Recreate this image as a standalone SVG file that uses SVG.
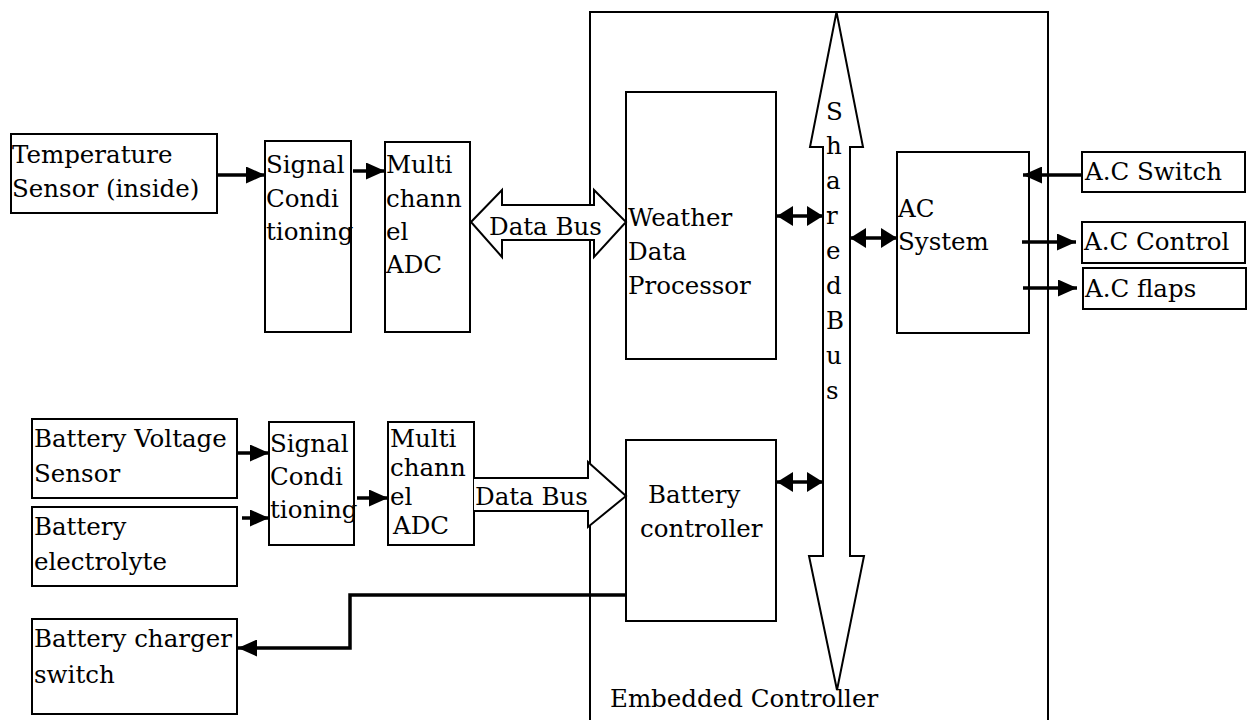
<svg xmlns="http://www.w3.org/2000/svg" width="1247" height="720" viewBox="0 0 1247 720">
<style>
text{font-family:"DejaVu Serif","Liberation Serif",serif;font-size:24.5px;fill:#000}
.box{fill:#fff;stroke:#000;stroke-width:2}
.frame{fill:none;stroke:#000;stroke-width:2}
.bus{fill:#fff;stroke:#000;stroke-width:2;stroke-linejoin:miter}
.c{fill:none;stroke:#000;stroke-width:3.5}
.a{marker-end:url(#ah)}
.d{marker-start:url(#dh);marker-end:url(#dh)}
</style>
<defs>
<marker id="ah" markerUnits="userSpaceOnUse" markerWidth="20" markerHeight="17" refX="19" refY="8.5" orient="auto"><path d="M0,0 L19,8.5 L0,17 z" fill="#000"/></marker>
<marker id="dh" markerUnits="userSpaceOnUse" markerWidth="17" markerHeight="20" refX="16" refY="10" orient="auto-start-reverse"><path d="M0,0 L16,10 L0,20 z" fill="#000"/></marker>
</defs>
<rect width="1247" height="720" fill="#fff"/>
<g id="embedded-controller">
<path class="frame" d="M590,722 V12 H1048 V722"/>
<text x="610" y="707">Embedded Controller</text>
</g>
<g id="temp-sensor"><rect class="box" x="11" y="134" width="206" height="79"/><text x="12" y="163">Temperature</text><text x="12" y="197">Sensor (inside)</text></g>
<g id="signal-cond-1"><rect class="box" x="265" y="141" width="86" height="191"/><text x="266" y="173">Signal</text><text x="266" y="207">Condi</text><text x="266" y="240">tioning</text></g>
<g id="adc-1"><rect class="box" x="385" y="142" width="85" height="190"/><text x="386" y="173">Multi</text><text x="386" y="207">chann</text><text x="386" y="240">el</text><text x="386" y="273">ADC</text></g>
<g id="weather-data-processor"><rect class="box" x="626" y="92" width="150" height="267"/><text x="628" y="226">Weather</text><text x="628" y="260">Data</text><text x="628" y="294">Processor</text></g>
<g id="ac-system"><rect class="box" x="897" y="152" width="132" height="181"/><text x="898" y="217">AC</text><text x="898" y="250">System</text></g>
<g id="ac-switch"><rect class="box" x="1082" y="152" width="163" height="40"/><text x="1085" y="180">A.C Switch</text></g>
<g id="ac-control"><rect class="box" x="1082" y="222" width="163" height="41"/><text x="1084" y="250">A.C Control</text></g>
<g id="ac-flaps"><rect class="box" x="1083" y="268" width="163" height="41"/><text x="1085" y="297">A.C flaps</text></g>
<g id="battery-voltage-sensor"><rect class="box" x="32" y="419" width="205" height="79"/><text x="34" y="447">Battery Voltage</text><text x="34" y="482">Sensor</text></g>
<g id="battery-electrolyte"><rect class="box" x="32" y="507" width="205" height="79"/><text x="34" y="535">Battery</text><text x="34" y="570">electrolyte</text></g>
<g id="signal-cond-2"><rect class="box" x="269" y="422" width="85" height="123"/><text x="270" y="452">Signal</text><text x="270" y="485">Condi</text><text x="270" y="518">tioning</text></g>
<g id="adc-2"><rect class="box" x="388" y="422" width="86" height="123"/><text x="390" y="447">Multi</text><text x="390" y="476">chann</text><text x="390" y="505">el</text><text x="393" y="534">ADC</text></g>
<g id="battery-controller"><rect class="box" x="626" y="440" width="150" height="181"/><text x="648" y="503">Battery</text><text x="640" y="537">controller</text></g>
<g id="battery-charger-switch"><rect class="box" x="32" y="619" width="205" height="95"/><text x="34" y="647">Battery charger</text><text x="34" y="683">switch</text></g>
<g id="connectors">
<polygon id="data-bus-1" class="bus" points="471,222 502,190 502,205 594,205 594,190 626,222 594,257 594,240 502,240 502,257"/>
<text x="489" y="235">Data Bus</text>
<polyline id="data-bus-2" class="bus" points="474,478 588,478 588,462 626,496 588,527 588,511 474,511"/>
<text x="475" y="505">Data Bus</text>
<polygon id="shared-bus" class="bus" points="836.5,12 863,147 850,147 850,556 864,556 837,690 809,556 823,556 823,147 810,147"/>
<text x="826" y="120">S</text><text x="826" y="154">h</text><text x="826" y="189">a</text><text x="826" y="224">r</text><text x="826" y="259">e</text><text x="826" y="294">d</text><text x="826" y="329">B</text><text x="826" y="364">u</text><text x="826" y="399">s</text>
<line class="c a" x1="217" y1="175" x2="265" y2="175"/>
<line class="c a" x1="353" y1="171" x2="385" y2="171"/>
<line class="c d" x1="777" y1="216" x2="823" y2="216"/>
<line class="c d" x1="850" y1="238" x2="897" y2="238"/>
<line class="c a" x1="1082" y1="175" x2="1023" y2="175"/>
<line class="c a" x1="1022" y1="242" x2="1076" y2="242"/>
<line class="c a" x1="1023" y1="288" x2="1077" y2="288"/>
<line class="c a" x1="237" y1="453" x2="269" y2="453"/>
<line class="c a" x1="242" y1="518" x2="269" y2="518"/>
<line class="c a" x1="357" y1="498" x2="388" y2="498"/>
<line class="c d" x1="777" y1="482" x2="823" y2="482"/>
<polyline class="c a" points="627,595 350,595 350,648 238,648"/>
</g>
</svg>
